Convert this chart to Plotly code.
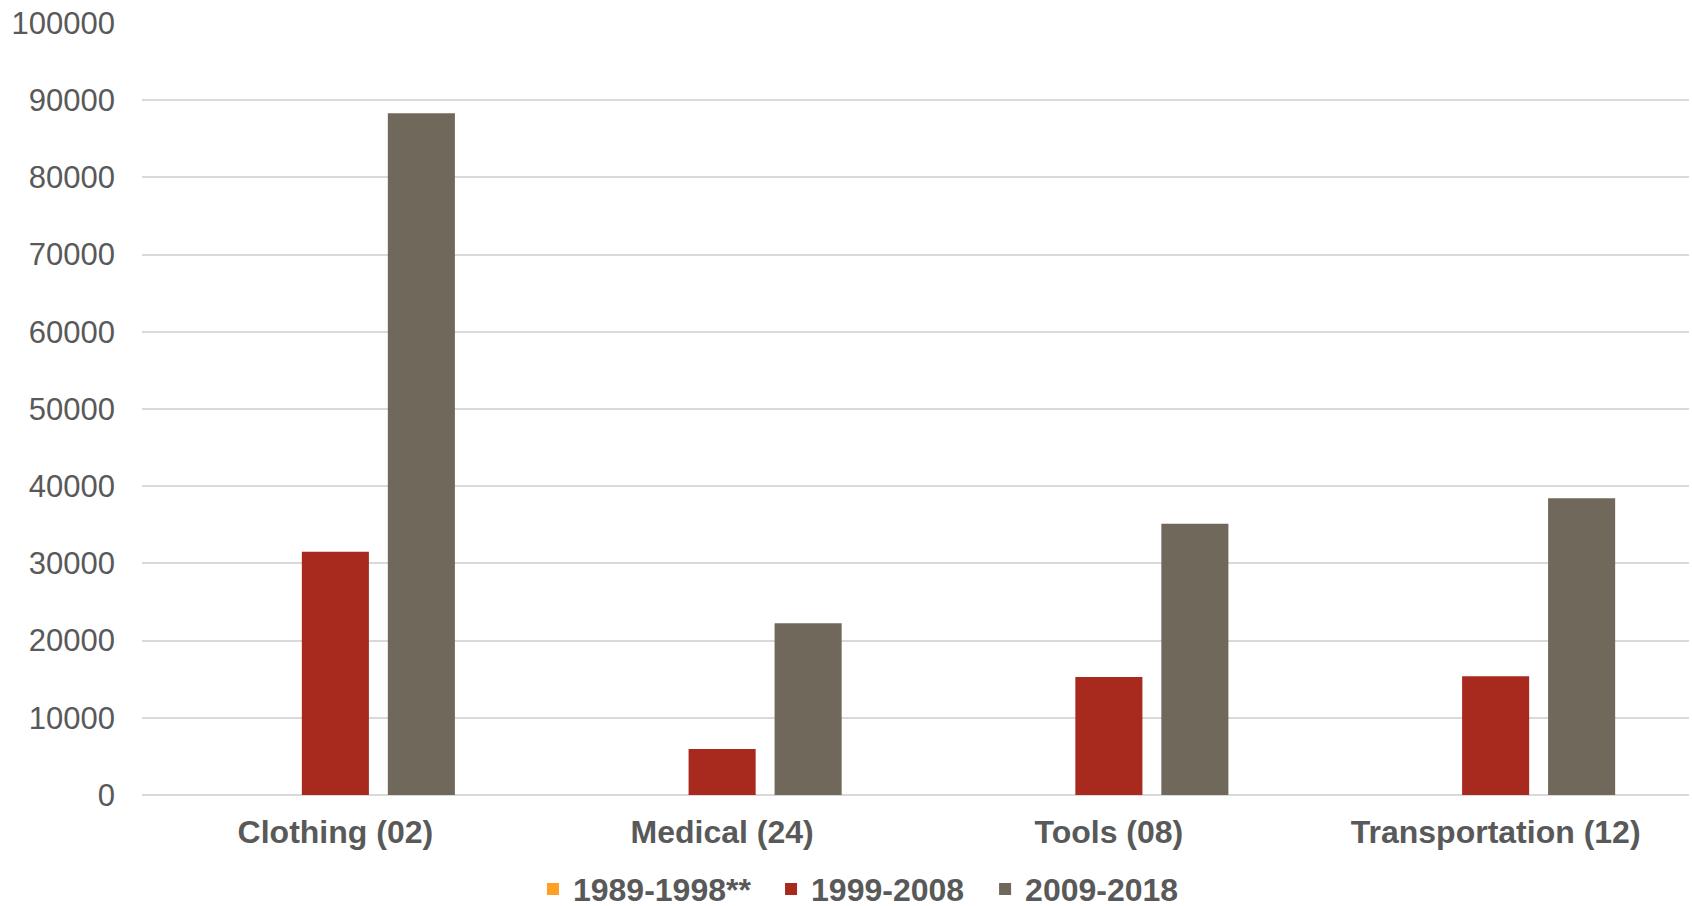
import plotly.graph_objects as go

categories = ["Clothing (02)", "Medical (24)", "Tools (08)", "Transportation (12)"]
series_names = ["1989-1998**", "1999-2008", "2009-2018"]
values_1989_1998 = [0, 0, 0, 0]
values_1999_2008 = [31500, 5960, 15280, 15370]
values_2009_2018 = [88300, 22240, 35150, 38430]
y_ticks = [0, 10000, 20000, 30000, 40000, 50000, 60000, 70000, 80000, 90000, 100000]

colors = ["#FFA024", "#A8291E", "#70685A"]
legend_ids = ["legend", "legend2", "legend3"]
legend_x = [0.315, 0.4557, 0.5822]
font_family = "Liberation Sans, Arial, sans-serif"
text_color = "#595959"

fig = go.Figure()
for name, vals, col, lid in zip(series_names, [values_1989_1998, values_1999_2008, values_2009_2018], colors, legend_ids):
    fig.add_trace(go.Bar(name=name, x=categories, y=vals, marker_color=col,
                         marker_line_width=0, legend=lid, showlegend=True))

legend_style = dict(orientation="h", xref="container", yref="container",
                    y=0.0186, xanchor="left", yanchor="middle",
                    font=dict(size=32, family=font_family, color=text_color, weight="bold"),
                    bgcolor="rgba(0,0,0,0)", borderwidth=0)

layout_legends = {}
for lid, lx in zip(legend_ids, legend_x):
    layout_legends[lid] = dict(legend_style, x=lx)

fig.update_layout(
    width=1692, height=906,
    showlegend=True,
    margin=dict(l=142, r=3, t=23, b=111),
    paper_bgcolor="white", plot_bgcolor="white",
    barmode="group", bargap=0.333, bargroupgap=0.22,
    font=dict(family=font_family, color=text_color),
    xaxis=dict(tickfont=dict(size=32, family=font_family, color=text_color, weight="bold"),
               showgrid=False, showline=False, ticks="", ticklabelstandoff=15,
               automargin=False),
    yaxis=dict(range=[0, 100000], tickvals=y_ticks, ticktext=[str(v) for v in y_ticks],
               tickfont=dict(size=31, family=font_family, color=text_color),
               showgrid=True, gridcolor="#D9D9D9", gridwidth=2,
               zeroline=True, zerolinecolor="#D9D9D9", zerolinewidth=2,
               showline=False, ticks="", ticklabelstandoff=26, automargin=False),
    **layout_legends,
)

fig.write_html("out.html", config={"displayModeBar": False},
               post_script="document.body.style.margin='0px';document.body.style.overflow='hidden';")
